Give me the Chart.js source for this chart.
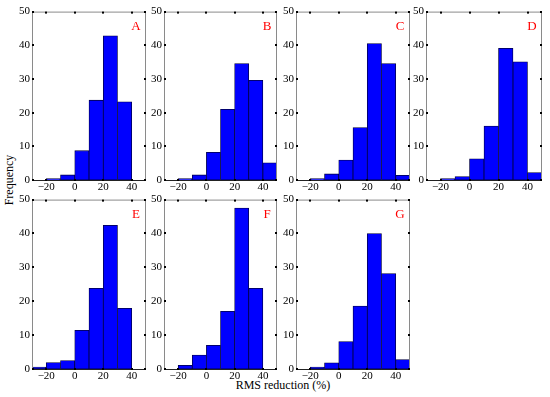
<!DOCTYPE html>
<html>
<head>
<meta charset="utf-8">
<script src="https://cdn.jsdelivr.net/npm/chart.js@4/dist/chart.umd.min.js"></script>
<style>
  body { margin: 0; background: #fff; }
  #wrap { position: relative; width: 550px; height: 397px; overflow: hidden; }
  #wrap canvas { position: absolute; }
  .lbl { position: absolute; font-family: "Liberation Serif", "DejaVu Serif", serif; font-size: 12px; color: #000; white-space: nowrap; }
</style>
</head>
<body>
<div id="wrap">
  <div class="lbl" id="ylab" style="left:9px; top:180px; transform: translate(-50%, -50%) rotate(-90deg);">Frequency</div>
  <div class="lbl" id="xlab" style="left:283px; top:385px; transform: translate(-50%, -50%);">RMS reduction (%)</div>
</div>
<script>
// histogram bins (10% wide, from -30 to 50), centres
const binCenters = [-25, -15, -5, 5, 15, 25, 35, 45];
const xTicks = [-20, 0, 20, 40];
const yTicks = [0, 10, 20, 30, 40, 50];
const panelNames = ['A', 'B', 'C', 'D', 'E', 'F', 'G'];

// frequencies per bin
const freqA = [0, 0.4, 1.5, 8.7, 23.7, 42.8, 23.2, 0];
const freqB = [0, 0.4, 1.5, 8.2, 21.0, 34.6, 29.6, 5.1];
const freqC = [0, 0.4, 1.8, 5.9, 15.6, 40.5, 34.6, 1.4];
const freqD = [0, 0.4, 1.0, 6.3, 16.0, 39.1, 35.1, 2.2];
const freqE = [0.6, 1.9, 2.5, 11.4, 23.8, 42.4, 17.9, 0];
const freqF = [0, 1.1, 4.1, 7.0, 17.0, 47.5, 23.8, 0];
const freqG = [0, 0.6, 1.8, 8.1, 18.6, 40.0, 28.2, 2.8];

const allFreqs = [freqA, freqB, freqC, freqD, freqE, freqF, freqG];

// plot-area boxes on the page [left, right, top, bottom]
const boxes = [
    [32, 146, 9, 180], [164, 277, 9, 180], [296, 410, 9, 180], [426, 542, 9, 180],
    [32, 146, 197, 369], [164, 277, 197, 369], [296, 410, 197, 369]
];

const SERIF = "'Liberation Serif', 'DejaVu Serif', serif";
const PAD_L = 34, PAD_T = 6, PAD_R = 6, PAD_B = 22;

const fmt = v => v < 0 ? '\u2212' + Math.abs(v) : String(v);

// box outline, inward tick marks on all four sides, panel letter
const framePlugin = {
    id: 'frame',
    afterDatasetsDraw(chart, args, opts) {
        const ctx = chart.ctx;
        const a = chart.chartArea;
        const xs = chart.scales.x, ys = chart.scales.y;
        ctx.save();
        ctx.strokeStyle = '#8a8a8a';
        ctx.lineWidth = 1;
        ctx.strokeRect(a.left + 0.5, a.top + 0.5, a.right - a.left - 1, a.bottom - a.top);
        ctx.strokeStyle = '#222';
        ctx.beginPath();
        ctx.moveTo(a.left, a.bottom + 0.5);
        ctx.lineTo(a.right, a.bottom + 0.5);
        ctx.stroke();

        ctx.fillStyle = '#000';
        xTicks.forEach(v => {
            const px = Math.round(xs.getPixelForValue(v));
            ctx.fillRect(px - 1, a.top, 2, 2);
            ctx.fillRect(px - 1, a.bottom - 1, 2, 2);
        });
        yTicks.forEach(v => {
            const py = Math.round(ys.getPixelForValue(v));
            ctx.fillRect(a.left, py - 1, 2, 2);
            ctx.fillRect(a.right - 2, py - 1, 2, 2);
        });

        ctx.fillStyle = '#ff0000';
        ctx.font = '13px ' + SERIF;
        ctx.textAlign = 'center';
        ctx.textBaseline = 'middle';
        ctx.fillText(opts.letter, a.right - 10, a.top + 15);
        ctx.restore();
    }
};

const wrap = document.getElementById('wrap');

allFreqs.forEach((vals, i) => {
    const [l, r, t, b] = boxes[i];
    const cv = document.createElement('canvas');
    const w = (r - l) + PAD_L + PAD_R;
    const h = (b - t) + PAD_T + PAD_B;
    cv.width = w;
    cv.height = h;
    cv.style.left = (l - PAD_L) + 'px';
    cv.style.top = (t - PAD_T) + 'px';
    cv.style.width = w + 'px';
    cv.style.height = h + 'px';
    wrap.appendChild(cv);

    new Chart(cv, {
        type: 'bar',
        data: {
            datasets: [{
                data: binCenters.map((x, k) => ({ x: x, y: vals[k] })),
                backgroundColor: '#0000ff',
                borderColor: '#000040',
                borderWidth: 0.8,
                borderSkipped: false,
                barPercentage: 1,
                categoryPercentage: 1
            }]
        },
        options: {
            responsive: false,
            animation: false,
            devicePixelRatio: 1,
            layout: { padding: { left: 0, top: PAD_T, right: PAD_R, bottom: 0 } },
            plugins: {
                legend: { display: false },
                tooltip: { enabled: false },
                frame: { letter: panelNames[i] }
            },
            scales: {
                x: {
                    type: 'linear',
                    min: -30,
                    max: 50,
                    offset: false,
                    grid: { display: false, drawTicks: false },
                    border: { display: false },
                    afterBuildTicks: s => { s.ticks = xTicks.map(v => ({ value: v })); },
                    afterFit: s => { s.height = PAD_B; },
                    ticks: {
                        autoSkip: false,
                        maxRotation: 0,
                        padding: 1,
                        color: '#000',
                        font: { family: SERIF, size: 11 },
                        callback: v => fmt(v)
                    }
                },
                y: {
                    min: 0,
                    max: 50,
                    grid: { display: false, drawTicks: false },
                    border: { display: false },
                    afterBuildTicks: s => { s.ticks = yTicks.map(v => ({ value: v })); },
                    afterFit: s => { s.width = PAD_L; },
                    ticks: {
                        padding: 2,
                        color: '#000',
                        font: { family: SERIF, size: 11 },
                        callback: v => fmt(v)
                    }
                }
            }
        },
        plugins: [framePlugin]
    });
});
</script>
</body>
</html>
